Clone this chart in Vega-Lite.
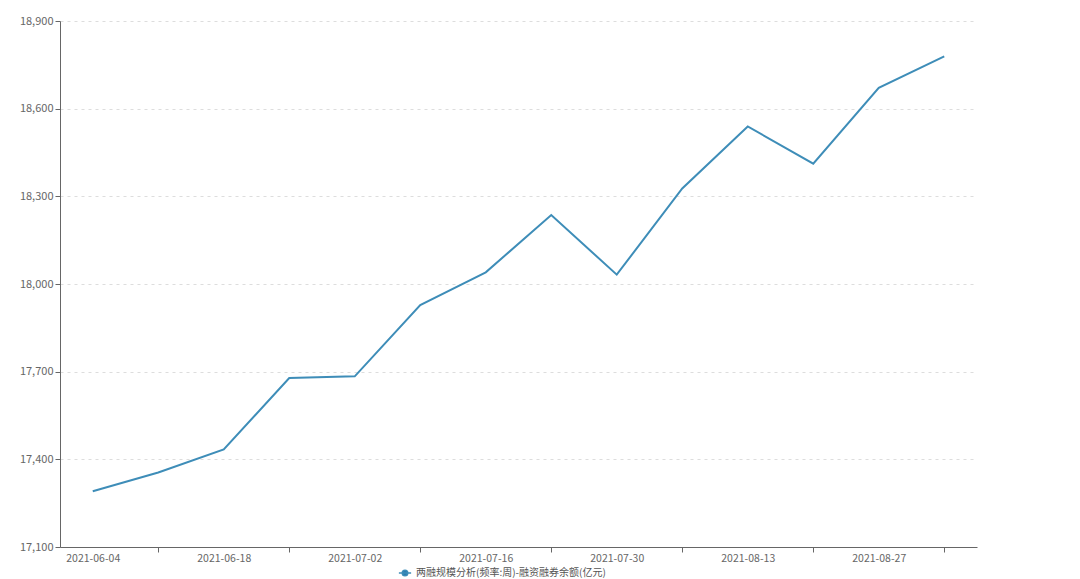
{
  "$schema": "https://vega.github.io/schema/vega-lite/v6.json",
  "autosize": "none",
  "padding": {"left": 60, "top": 21, "right": 103, "bottom": 32},
  "width": 917,
  "height": 526,
  "background": "#ffffff",
  "config": {
    "view": {"stroke": null},
    "font": "Noto Sans CJK SC"
  },
  "data": {
    "values": [
      {"date": "2021-06-04", "value": 17291, "series": "两融规模分析(频率:周)-融资融券余额(亿元)"},
      {"date": "2021-06-11", "value": 17355, "series": "两融规模分析(频率:周)-融资融券余额(亿元)"},
      {"date": "2021-06-18", "value": 17434, "series": "两融规模分析(频率:周)-融资融券余额(亿元)"},
      {"date": "2021-06-25", "value": 17678, "series": "两融规模分析(频率:周)-融资融券余额(亿元)"},
      {"date": "2021-07-02", "value": 17684, "series": "两融规模分析(频率:周)-融资融券余额(亿元)"},
      {"date": "2021-07-09", "value": 17928, "series": "两融规模分析(频率:周)-融资融券余额(亿元)"},
      {"date": "2021-07-16", "value": 18040, "series": "两融规模分析(频率:周)-融资融券余额(亿元)"},
      {"date": "2021-07-23", "value": 18236, "series": "两融规模分析(频率:周)-融资融券余额(亿元)"},
      {"date": "2021-07-30", "value": 18032, "series": "两融规模分析(频率:周)-融资融券余额(亿元)"},
      {"date": "2021-08-06", "value": 18327, "series": "两融规模分析(频率:周)-融资融券余额(亿元)"},
      {"date": "2021-08-13", "value": 18539, "series": "两融规模分析(频率:周)-融资融券余额(亿元)"},
      {"date": "2021-08-20", "value": 18412, "series": "两融规模分析(频率:周)-融资融券余额(亿元)"},
      {"date": "2021-08-27", "value": 18671, "series": "两融规模分析(频率:周)-融资融券余额(亿元)"},
      {"date": "2021-09-03", "value": 18779, "series": "两融规模分析(频率:周)-融资融券余额(亿元)"}
    ]
  },
  "mark": {"type": "line", "strokeWidth": 2, "interpolate": "linear"},
  "encoding": {
    "x": {
      "field": "date",
      "type": "nominal",
      "sort": null,
      "scale": {"type": "point", "padding": 0.5},
      "axis": {
        "title": null,
        "labelAngle": 0,
        "labelFontSize": 10.5,
        "labelColor": "#666666",
        "labelPadding": 1,
        "labelExpr": "indexof(['2021-06-04','2021-06-18','2021-07-02','2021-07-16','2021-07-30','2021-08-13','2021-08-27'], datum.value) >= 0 ? datum.value : ''",
        "domainColor": "#666666",
        "domainWidth": 1,
        "tickColor": "#666666",
        "tickSize": 5,
        "tickOpacity": {"condition": {"test": "indexof(['2021-06-04','2021-06-18','2021-07-02','2021-07-16','2021-07-30','2021-08-13','2021-08-27'], datum.value) >= 0", "value": 0}, "value": 1},
        "grid": false,
        "labelOverlap": false
      }
    },
    "y": {
      "field": "value",
      "type": "quantitative",
      "scale": {"domain": [17100, 18900], "zero": false, "nice": false},
      "axis": {
        "title": null,
        "values": [17100, 17400, 17700, 18000, 18300, 18600, 18900],
        "format": ",d",
        "labelFontSize": 11,
        "labelColor": "#666666",
        "labelPadding": 2,
        "domainColor": "#666666",
        "domainWidth": 1,
        "tickColor": "#666666",
        "tickSize": 5,
        "grid": true,
        "gridColor": "#dddddd",
        "gridDash": [3, 4],
        "gridWidth": 1
      }
    },
    "color": {
      "field": "series",
      "type": "nominal",
      "scale": {"range": ["#3e8db8"]},
      "legend": {
        "title": null,
        "orient": "none",
        "legendX": 338,
        "legendY": 545,
        "labelFontSize": 10,
        "labelLimit": 0,
        "labelColor": "#555555",
        "symbolType": "M-1,0L1,0M-0.45,0A0.45,0.45,0,1,1,0.45,0A0.45,0.45,0,1,1,-0.45,0Z",
        "symbolSize": 150,
        "symbolStrokeWidth": 1.5,
        "symbolFillColor": "#2a7ab0",
        "symbolStrokeColor": "#2a7ab0",
        "labelOffset": 4
      }
    }
  }
}
